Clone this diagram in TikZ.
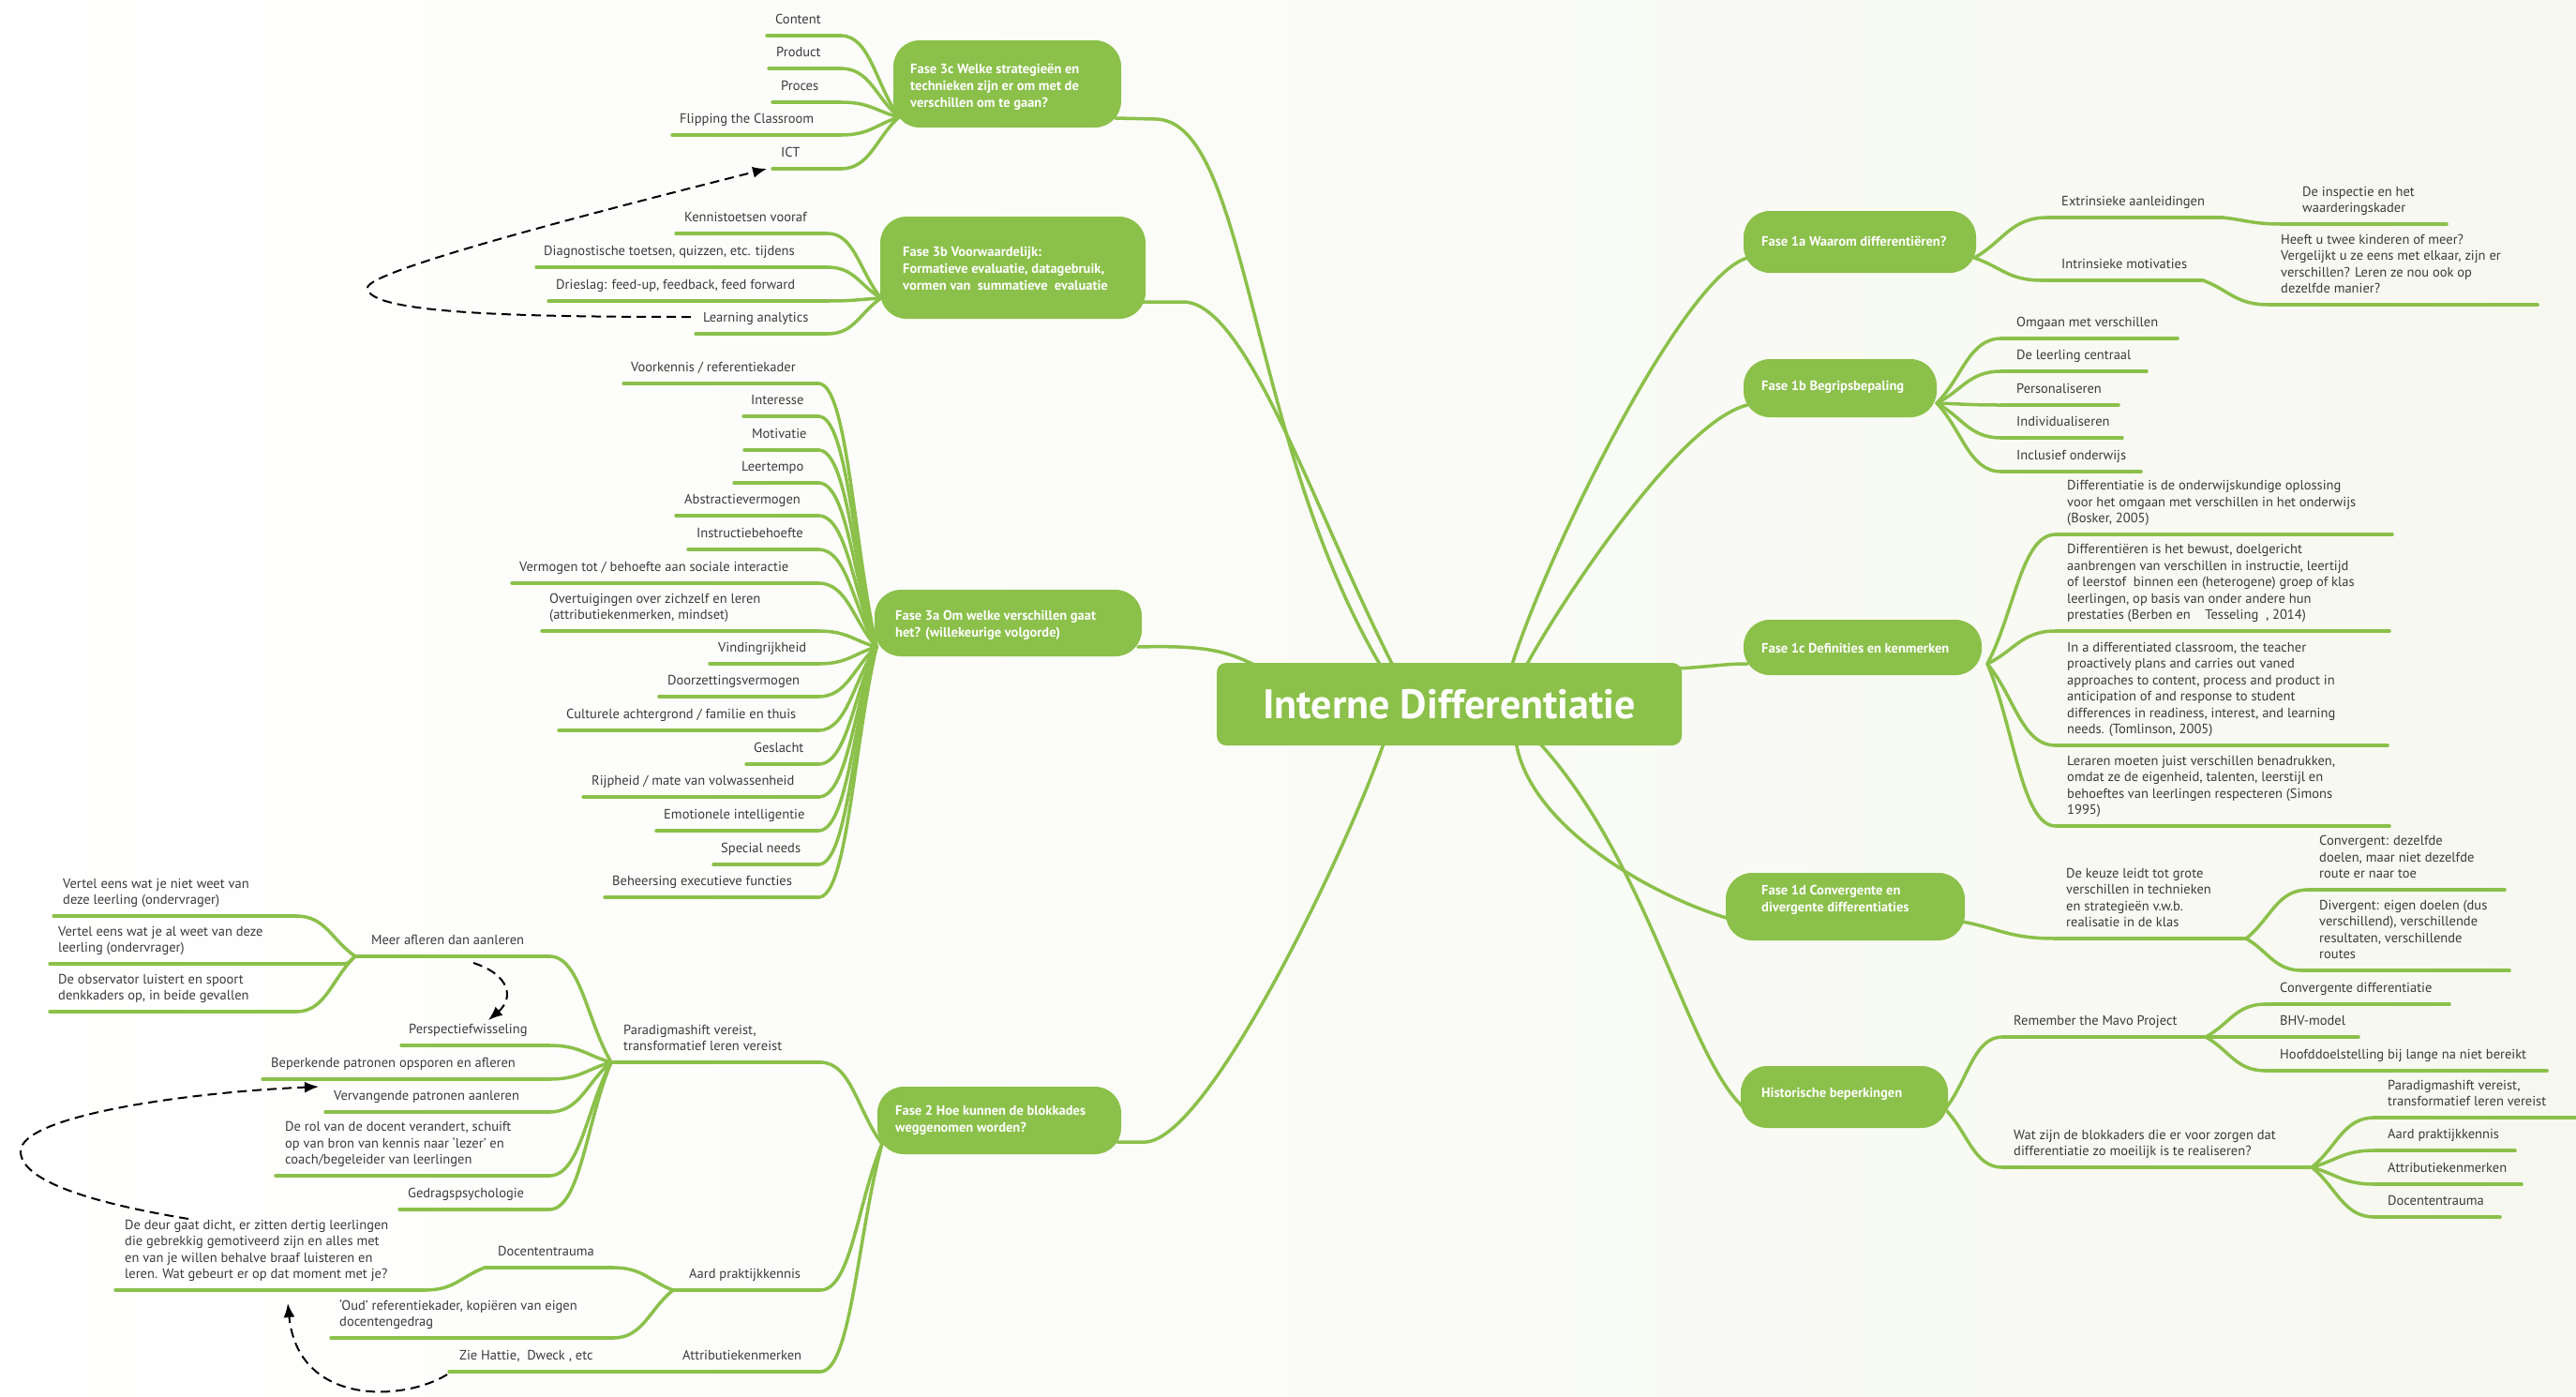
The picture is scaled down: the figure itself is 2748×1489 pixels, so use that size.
\documentclass[tikz,border=0pt]{standalone}
\usepackage{fontspec}
\setmainfont{PT Sans}
\usetikzlibrary{calc,arrows.meta}
\definecolor{gr}{RGB}{139,192,74}
\definecolor{txt}{RGB}{58,58,58}
\definecolor{bgr}{RGB}{246,248,240}
\newcommand\myleaffont{\fontsize{14.5}{17.5}\selectfont}
\newcommand\mytopicfont{\bfseries\fontsize{14.5}{18}\selectfont}
\newcommand\leaf[6]{%
  \coordinate (#1-s) at (#3,#5);
  \coordinate (#1-e) at (#4,#5);
  \draw[br] (#1-s) -- (#1-e);
  \node[lf] (#1) at (#2,#5-7) {#6};}
\newcommand\conn[2]{\draw[br] (#1) .. controls ($(#1)!0.5!(#2|-#1)$) and ($(#2)!0.4!(#1)$) .. (#2);}
\begin{document}
\begin{tikzpicture}[x=1pt,y=-1pt,
 br/.style={draw=gr, line width=3.5pt, line cap=round},
 lf/.style={anchor=south west, inner sep=0pt, font=\myleaffont, text=txt, align=left, execute at end node=\strut},
 box/.style={fill=gr, rounded corners=28pt, inner sep=0pt, draw=none},
 tt/.style={anchor=west, inner sep=0pt, text=white, font=\mytopicfont, align=left},
 dsh/.style={draw=black, line width=2pt, dash pattern=on 10pt off 6pt, -{Latex[length=15pt,width=12pt]}}]
\useasboundingbox (0,0) rectangle (2748,1489);
\shade[left color=white, right color=bgr] (0,0) rectangle (2748,1489);

% ---------- main connectors ----------
\coordinate (cT3c) at (1474,712); \coordinate (cT3b) at (1487,712);
\coordinate (cT3a) at (1344,712); \coordinate (cT2) at (1477,790);
\coordinate (cT1a) at (1612,712); \coordinate (cT1b) at (1627,712);
\coordinate (cT1c) at (1790,713); \coordinate (cT1d) at (1617,790);
\coordinate (cTh) at (1640,790);
\coordinate (a3c) at (1190,126); \coordinate (a3b) at (1218,322);
\coordinate (a3a) at (1214,690); \coordinate (a2) at (1192,1218);
\coordinate (a1a) at (1864,275); \coordinate (a1b) at (1864,432);
\coordinate (a1c) at (1864,708); \coordinate (a1d) at (1845,980);
\coordinate (ah) at (1862,1183);
\draw[br] (a3c) -- (1232,127) .. controls (1332,127) and (1330,470) .. (cT3c);
\draw[br] (a3b) -- (1262,322) .. controls (1330,322) and (1400,540) .. (cT3b);
\draw[br] (a3a) .. controls (1290,688) and (1310,695) .. (cT3a);
\draw[br] (a2) -- (1222,1218) .. controls (1290,1215) and (1440,900) .. (cT2);
\draw[br] (cT1a) .. controls (1650,590) and (1795,295) .. (a1a);
\draw[br] (cT1b) .. controls (1660,650) and (1790,450) .. (a1b);
\draw[br] (cT1c) .. controls (1825,711) and (1840,708) .. (a1c);
\draw[br] (cT1d) .. controls (1630,880) and (1760,955) .. (a1d);
\draw[br] (cTh) .. controls (1760,920) and (1800,1130) .. (ah);

% ---------- Fase 3c ----------
\coordinate (k3c) at (959,125);
\leaf{Lc1}{827}{818}{897}{38}{Content}
\leaf{Lc2}{828}{820}{897}{73}{Product}
\leaf{Lc3}{833}{824}{897}{109}{Proces}
\leaf{Lc4}{725}{717}{897}{144}{Flipping the Classroom}
\leaf{Lc5}{833}{824}{897}{180}{ICT}
\foreach \n in {Lc1,Lc2,Lc3,Lc4,Lc5}{\conn{\n-e}{k3c}}

% ---------- Fase 3b ----------
\coordinate (k3b) at (940,318);
\leaf{Lb1}{730}{721}{883}{249}{Kennistoetsen vooraf}
\leaf{Lb2}{580}{572}{883}{285}{Diagnostische toetsen, quizzen, etc. tijdens}
\leaf{Lb3}{593}{585}{883}{321}{Drieslag: feed-up, feedback, feed forward}
\leaf{Lb4}{750}{742}{883}{356}{Learning analytics}
\foreach \n in {Lb1,Lb2,Lb3,Lb4}{\conn{\n-e}{k3b}}

% ---------- Fase 3a ----------
\coordinate (k3a) at (935,690);
\leaf{La1}{673}{665}{873}{409}{Voorkennis / referentiekader}
\leaf{La2}{801}{793}{873}{444}{Interesse}
\leaf{La3}{802}{794}{873}{480}{Motivatie}
\leaf{La4}{791}{783}{873}{515}{Leertempo}
\leaf{La5}{730}{721}{873}{550}{Abstractievermogen}
\leaf{La6}{743}{734}{873}{586}{Instructiebehoefte}
\leaf{La7}{554}{546}{873}{622}{Vermogen tot / behoefte aan sociale interactie}
\leaf{La8}{586}{578}{873}{673}{Overtuigingen over zichzelf en leren\\(attributiekenmerken, mindset)}
\leaf{La9}{766}{757}{873}{708}{Vindingrijkheid}
\leaf{La10}{712}{703}{873}{743}{Doorzettingsvermogen}
\leaf{La11}{604}{596}{873}{779}{Culturele achtergrond / familie en thuis}
\leaf{La12}{804}{796}{873}{815}{Geslacht}
\leaf{La13}{631}{622}{873}{850}{Rijpheid / mate van volwassenheid}
\leaf{La14}{708}{700}{873}{886}{Emotionele intelligentie}
\leaf{La15}{769}{761}{873}{922}{Special needs}
\leaf{La16}{653}{645}{873}{957}{Beheersing executieve functies}
\foreach \n in {La1,La2,La3,La4,La5,La6,La7,La8,La9,La10,La11,La12,La13,La14,La15,La16}{\conn{\n-e}{k3a}}

% ---------- Fase 2 ----------
\coordinate (k2) at (941,1220);
\leaf{Lp}{665}{652}{875}{1133}{Paradigmashift vereist,\\transformatief leren vereist}
\conn{Lp-e}{k2}
\leaf{Lm}{396}{379}{586}{1020}{Meer afleren dan aanleren}
\conn{Lm-e}{Lp-s}
\leaf{Lv1}{67}{57}{316}{977}{Vertel eens wat je niet weet van\\deze leerling (ondervrager)}
\leaf{Lv2}{62}{53}{367}{1028}{Vertel eens wat je al weet van deze\\leerling (ondervrager)}
\leaf{Lv3}{62}{53}{316}{1079}{De observator luistert en spoort\\denkkaders op, in beide gevallen}
\foreach \n in {Lv1,Lv2,Lv3}{\conn{\n-e}{Lm-s}}
\leaf{Lq1}{436}{428}{586}{1115}{Perspectiefwisseling}
\leaf{Lq2}{289}{280}{586}{1151}{Beperkende patronen opsporen en afleren}
\leaf{Lq3}{356}{347}{586}{1186}{Vervangende patronen aanleren}
\leaf{Lq4}{304}{294}{586}{1254}{De rol van de docent verandert, schuift\\op van bron van kennis naar ‘lezer’ en\\coach/begeleider van leerlingen}
\leaf{Lq5}{435}{426}{586}{1290}{Gedragspsychologie}
\foreach \n in {Lq1,Lq2,Lq3,Lq4,Lq5}{\conn{\n-e}{Lp-s}}
\leaf{Lk}{735}{718}{875}{1376}{Aard praktijkkennis}
\conn{Lk-e}{k2}
\leaf{Ld}{531}{517}{654}{1352}{Docententrauma}
\conn{Ld-e}{Lk-s}
\leaf{Ldd}{133}{123}{453}{1376}{De deur gaat dicht, er zitten dertig leerlingen\\die gebrekkig gemotiveerd zijn en alles met\\en van je willen behalve braaf luisteren en\\leren. Wat gebeurt er op dat moment met je?}
\conn{Ldd-e}{Ld-s}
\leaf{Lo}{362}{353}{654}{1427}{‘Oud’ referentiekader, kopiëren van eigen\\docentengedrag}
\conn{Lo-e}{Lk-s}
\leaf{Lt}{728}{718}{875}{1463}{Attributiekenmerken}
\conn{Lt-e}{k2}
\leaf{Lz}{490}{479}{718}{1463}{Zie Hattie,\ \ Dweck , etc}
\draw[br] (Lz-e) -- (Lt-s);

% ---------- Fase 1a ----------
\coordinate (k1a) at (2106,275);
\leaf{R1}{2199}{2184}{2371}{232}{Extrinsieke aanleidingen}
\leaf{R1a}{2456}{2435}{2610}{239}{De inspectie en het\\waarderingskader}
\leaf{R2}{2199}{2178}{2350}{299}{Intrinsieke motivaties}
\leaf{R2a}{2433}{2420}{2707}{325}{Heeft u twee kinderen of meer?\\Vergelijkt u ze eens met elkaar, zijn er\\verschillen? Leren ze nou ook op\\dezelfde manier?}
\conn{R1-s}{k1a} \conn{R2-s}{k1a}
\conn{R1a-s}{R1-e} \conn{R2a-s}{R2-e}

% ---------- Fase 1b ----------
\coordinate (k1b) at (2066,430);
\leaf{R3}{2151}{2135}{2323}{361}{Omgaan met verschillen}
\leaf{R4}{2151}{2135}{2290}{396}{De leerling centraal}
\leaf{R5}{2151}{2135}{2260}{432}{Personaliseren}
\leaf{R6}{2151}{2135}{2264}{467}{Individualiseren}
\leaf{R7}{2151}{2135}{2284}{503}{Inclusief onderwijs}
\foreach \n in {R3,R4,R5,R6,R7}{\conn{\n-s}{k1b}}

% ---------- Fase 1c ----------
\coordinate (k1c) at (2120,708);
\leaf{R8}{2205}{2193}{2552}{570}{Differentiatie is de onderwijskundige oplossing\\voor het omgaan met verschillen in het onderwijs\\(Bosker, 2005)}
\leaf{R9}{2205}{2193}{2549}{673}{Differentiëren is het bewust, doelgericht\\aanbrengen van verschillen in instructie, leertijd\\of leerstof\ \ binnen een (heterogene) groep of klas\\leerlingen, op basis van onder andere hun\\prestaties (Berben en\ \ \ \ Tesseling\ \ , 2014)}
\leaf{R10}{2205}{2193}{2547}{795}{In a differentiated classroom, the teacher\\proactively plans and carries out vaned\\approaches to content, process and product in\\anticipation of and response to student\\differences in readiness, interest, and learning\\needs. (Tomlinson, 2005)}
\leaf{R11}{2205}{2193}{2549}{881}{Leraren moeten juist verschillen benadrukken,\\omdat ze de eigenheid, talenten, leerstijl en\\behoeftes van leerlingen respecteren (Simons\\1995)}
\foreach \n in {R8,R9,R10,R11}{\conn{\n-s}{k1c}}

% ---------- Fase 1d ----------
\coordinate (k1d) at (2093,983);
\leaf{R12}{2204}{2193}{2396}{1001}{De keuze leidt tot grote\\verschillen in technieken\\en strategieën v.w.b.\\realisatie in de klas}
\conn{R12-s}{k1d}
\leaf{R12a}{2474}{2462}{2672}{949}{Convergent: dezelfde\\doelen, maar niet dezelfde\\route er naar toe}
\leaf{R12b}{2474}{2456}{2677}{1035}{Divergent: eigen doelen (dus\\verschillend), verschillende\\resultaten, verschillende\\routes}
\conn{R12a-s}{R12-e} \conn{R12b-s}{R12-e}

% ---------- Historische beperkingen ----------
\coordinate (kh) at (2075,1183);
\leaf{R13}{2148}{2136}{2353}{1106}{Remember the Mavo Project}
\leaf{R14}{2148}{2136}{2466}{1245}{Wat zijn de blokkaders die er voor zorgen dat\\differentiatie zo moeilijk is te realiseren?}
\conn{R13-s}{kh} \conn{R14-s}{kh}
\leaf{R13a}{2432}{2417}{2613}{1071}{Convergente differentiatie}
\leaf{R13b}{2432}{2417}{2516}{1106}{BHV-model}
\leaf{R13c}{2432}{2417}{2717}{1142}{Hoofddoelstelling bij lange na niet bereikt}
\foreach \n in {R13a,R13b,R13c}{\conn{\n-s}{R13-e}}
\leaf{R14a}{2547}{2533}{2748}{1192}{Paradigmashift vereist,\\transformatief leren vereist}
\leaf{R14b}{2547}{2533}{2683}{1227}{Aard praktijkkennis}
\leaf{R14c}{2547}{2533}{2690}{1263}{Attributiekenmerken}
\leaf{R14d}{2547}{2533}{2667}{1298}{Docententrauma}
\foreach \n in {R14a,R14b,R14c,R14d}{\conn{\n-s}{R14-e}}

% ---------- topic boxes ----------
\node[box, minimum width=243pt, minimum height=93pt] (B3c) at (1074.5,89.5) {};
\node[tt] (B3c-t) at (971,92.5) {Fase 3c Welke strategieën en\\technieken zijn er om met de\\verschillen om te gaan?};
\node[box, minimum width=283pt, minimum height=109pt] (B3b) at (1080.5,285.5) {};
\node[tt] (B3b-t) at (963,286) {Fase 3b Voorwaardelijk:\\Formatieve evaluatie, datagebruik,\\vormen van\ \ summatieve\ \ evaluatie};
\node[box, minimum width=285pt, minimum height=71pt] (B3a) at (1075.5,664.5) {};
\node[tt] (B3a-t) at (955,667) {Fase 3a Om welke verschillen gaat\\het? (willekeurige volgorde)};
\node[box, minimum width=260pt, minimum height=72pt] (B2) at (1066,1195) {};
\node[tt] (B2-t) at (955,1194.5) {Fase 2 Hoe kunnen de blokkades\\weggenomen worden?};
\node[box, minimum width=248pt, minimum height=66pt] (B1a) at (1984,258) {};
\node[tt] (B1a-t) at (1879,257) {Fase 1a Waarom differentiëren?};
\node[box, minimum width=206pt, minimum height=62pt] (B1b) at (1963,414) {};
\node[tt] (B1b-t) at (1879,413) {Fase 1b Begripsbepaling};
\node[box, minimum width=254pt, minimum height=59pt] (B1c) at (1987,690.5) {};
\node[tt] (B1c-t) at (1879,691) {Fase 1c Definities en kenmerken};
\node[box, minimum width=255pt, minimum height=72pt] (B1d) at (1968.5,967) {};
\node[tt] (B1d-t) at (1879,959.5) {Fase 1d Convergente en\\divergente differentiaties};
\node[box, minimum width=221pt, minimum height=66pt] (Bh) at (1967.5,1170) {};
\node[tt] (Bh-t) at (1879,1167) {Historische beperkingen};

% ---------- central topic ----------
\node[fill=gr, rounded corners=10pt, minimum width=496pt, minimum height=88pt, inner sep=0pt,
      text=white, font=\bfseries\fontsize{44}{50}\selectfont] (title) at (1546,751) {Interne Differentiatie};

% ---------- dashed arrows ----------
\coordinate (d1s) at (737,338);
\coordinate (d1e) at (818,180);
\draw[dsh] (d1s) .. controls (560,338) and (392,335) .. (392,307) .. controls (392,290) and (600,235) .. (d1e);
\coordinate (d2s) at (505,1027);
\coordinate (d2e) at (521,1088);
\draw[dsh] (d2s) .. controls (545,1040) and (548,1065) .. (d2e);
\coordinate (d3s) at (201,1300);
\coordinate (d3e) at (340,1159);
\draw[dsh] (d3s) .. controls (110,1285) and (22,1262) .. (22,1228) .. controls (22,1190) and (200,1165) .. (d3e);
\coordinate (d4s) at (477,1466);
\coordinate (d4e) at (307,1390);
\draw[dsh] (d4s) .. controls (430,1495) and (318,1500) .. (d4e);
\end{tikzpicture}
\end{document}
